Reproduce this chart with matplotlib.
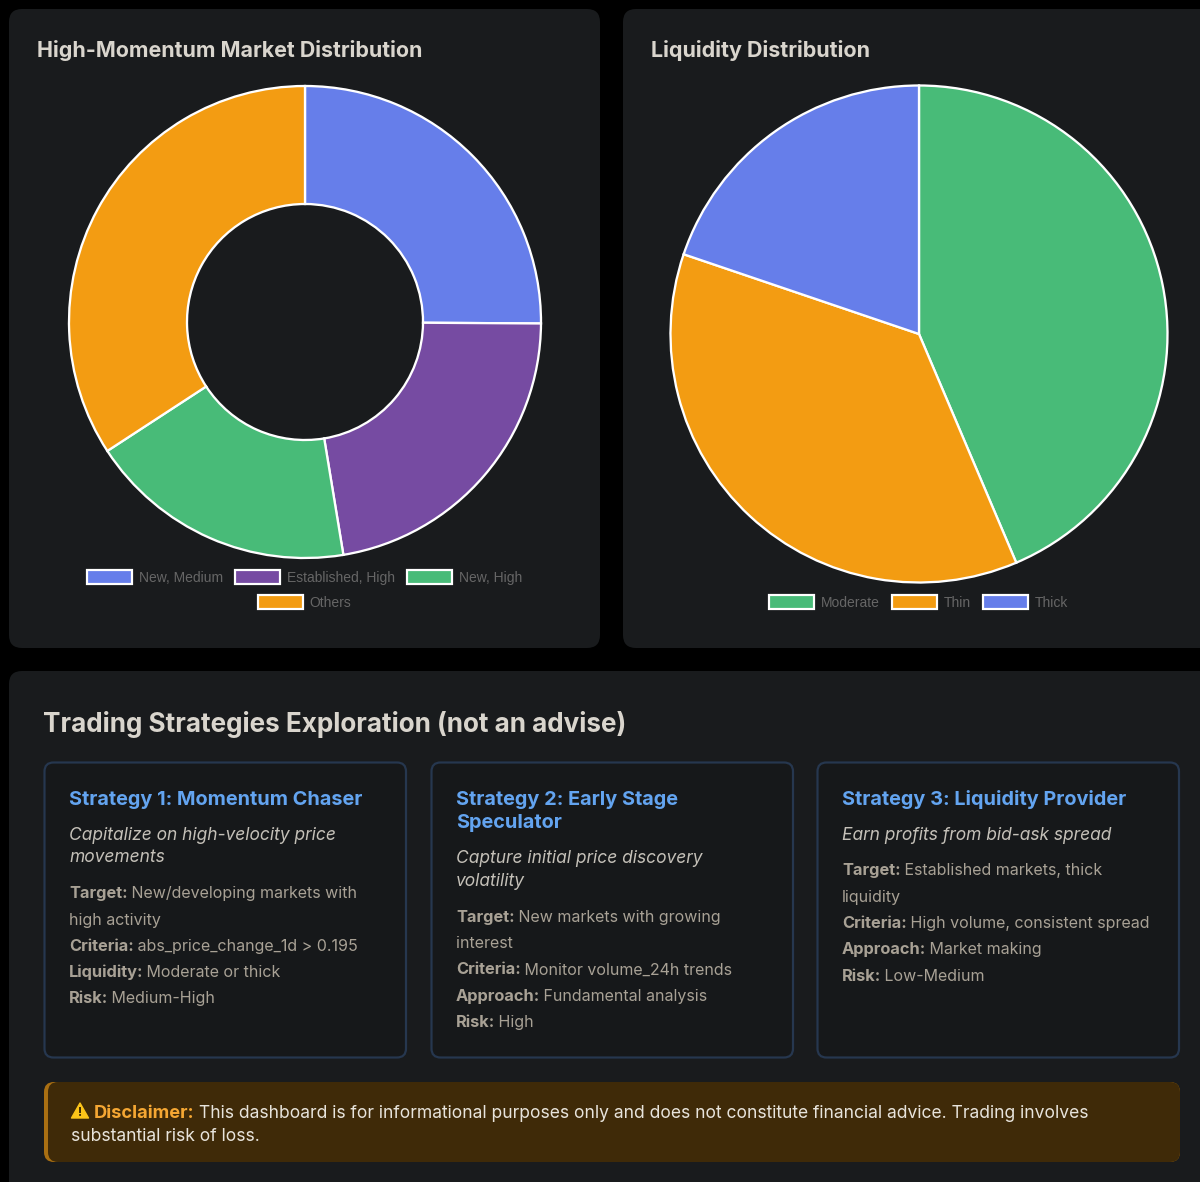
import matplotlib
matplotlib.use("Agg")
import matplotlib.pyplot as plt
from matplotlib.patches import FancyBboxPatch, Rectangle, Polygon

W, H = 1200, 1182
BLUE, PURPLE, GREEN, ORANGE = "#667eea", "#764ba2", "#48bb78", "#f39c12"

market_labels = ["New, Medium", "Established, High", "New, High", "Others"]
market_values = [25.1, 22.3, 18.4, 34.2]
market_colors = [BLUE, PURPLE, GREEN, ORANGE]

liquidity_labels = ["Moderate", "Thin", "Thick"]
liquidity_values = [43.6, 36.6, 19.8]
liquidity_colors = [GREEN, ORANGE, BLUE]

strategy_titles = [["Strategy 1: Momentum Chaser"],
                   ["Strategy 2: Early Stage", "Speculator"],
                   ["Strategy 3: Liquidity Provider"]]
strategy_subs = [["Capitalize on high-velocity price", "movements"],
                 ["Capture initial price discovery", "volatility"],
                 ["Earn profits from bid-ask spread"]]
strategy_rows = [
    [("Target:", " New/developing markets with"), ("", "high activity"),
     ("Criteria:", " abs_price_change_1d > 0.195"), ("Liquidity:", " Moderate or thick"),
     ("Risk:", " Medium-High")],
    [("Target:", " New markets with growing"), ("", "interest"),
     ("Criteria:", " Monitor volume_24h trends"), ("Approach:", " Fundamental analysis"),
     ("Risk:", " High")],
    [("Target:", " Established markets, thick"), ("", "liquidity"),
     ("Criteria:", " High volume, consistent spread"), ("Approach:", " Market making"),
     ("Risk:", " Low-Medium")],
]

PANEL = "#191b1d"
px = 0.72
FONT = "Inter"

fig = plt.figure(figsize=(W / 100, H / 100), dpi=100, facecolor="black")
bg = fig.add_axes([0, 0, 1, 1])
bg.set_xlim(0, W); bg.set_ylim(H, 0); bg.axis("off")
renderer = fig.canvas.get_renderer()


def box(x0, y0, x1, y1, r, fc, ec="none", lw=0, z=1):
    p = FancyBboxPatch((x0 + r, y0 + r), x1 - x0 - 2 * r, y1 - y0 - 2 * r,
                       boxstyle=f"round,pad={r},rounding_size={r}",
                       fc=fc, ec=ec, lw=lw, zorder=z, mutation_aspect=1)
    bg.add_patch(p)


def txt(x, y, s, size, color, weight="normal", style="normal", family=FONT, ha="left"):
    return bg.text(x, y, s, fontsize=size * px, color=color, fontweight=weight,
                   fontstyle=style, family=family, ha=ha, va="baseline", zorder=5)


def runs(x, y, parts):
    for s, size, color, weight, fam in parts:
        t = txt(x, y, s.replace(" ", "\u00a0") if s.startswith(" ") else s, size, color, weight, family=fam)
        x += t.get_window_extent(renderer).width - 1


def pie(cx, cy, r, values, colors, width=None):
    pad = r + 4
    ax = fig.add_axes([(cx - pad) / W, 1 - (cy + pad) / H, 2 * pad / W, 2 * pad / H])
    wp = dict(edgecolor="white", linewidth=2.3 * px)
    if width:
        wp["width"] = width
    ax.pie(values, colors=colors, startangle=90, counterclock=False, radius=1, wedgeprops=wp)
    ax.set_xlim(-pad / r, pad / r); ax.set_ylim(-pad / r, pad / r)
    ax.set_aspect("equal"); ax.axis("off"); ax.set_zorder(3)


def legend(rows, cy_list, colors_map):
    for (items, cx), cy in zip(rows, cy_list):
        widths = []
        for lab in items:
            t = txt(0, cy, lab, 13.9, "#666666", family="Liberation Sans")
            widths.append(t.get_window_extent(renderer).width)
            t.remove()
        gap = 11
        total = sum(47 + 6 + w for w in widths) + gap * (len(items) - 1)
        x = cx - total / 2 - 1
        for lab, w in zip(items, widths):
            bg.add_patch(Rectangle((x + 1, cy - 7), 45.5, 14, fc=colors_map[lab], ec="white",
                                   lw=2.2 * px, zorder=5))
            txt(x + 53, cy + 5, lab, 13.9, "#666666", family="Liberation Sans")
            x += 47 + 6 + w + gap


# panels
box(9, 9, 600, 648, 13, PANEL)
box(623, 9, 1230, 648, 13, PANEL)
box(9, 671, 1230, 1210, 13, PANEL)

txt(37, 57, "High-Momentum Market Distribution", 21.4, "#d9d5cd", "bold")
txt(651, 57, "Liquidity Distribution", 21.5, "#d9d5cd", "bold")

pie(305, 322, 236, market_values, market_colors, width=0.5)
pie(919, 334, 248.5, liquidity_values, liquidity_colors)

legend([(market_labels[:3], 305), (market_labels[3:], 305)], [577, 602],
       dict(zip(market_labels, market_colors)))
legend([(liquidity_labels, 919)], [602], dict(zip(liquidity_labels, liquidity_colors)))

txt(43, 732, "Trading Strategies Exploration (not an advise)", 26.1, "#d9d5cd", "bold")

# strategy cards
for i, x0 in enumerate([44, 431, 817]):
    box(x0 + 0.5, 762.5, x0 + 362, 1057.5, 9, "#16181a", "#26374f", 2.2 * px)
    tx = x0 + 25
    y = 805
    for line in strategy_titles[i]:
        txt(tx, y, line, 19.9, "#63a4f0", "bold")
        y += 23.5
    y += 11
    for line in strategy_subs[i]:
        txt(tx, y, line, 17.4, "#c4c0b8", style="italic")
        y += 22.7
    y += 13.3
    for head, rest in strategy_rows[i]:
        parts = []
        if head:
            parts.append((head, 16.4, "#a8a195", "bold", FONT))
        parts.append((rest, 16.0, "#a8a195", "normal", FONT))
        runs(tx, y, parts)
        y += 26.3

# disclaimer
box(44, 1082, 1180, 1162, 10, "#a96f12")
box(48, 1082, 1180, 1162, 10, "#3f2a08", z=2)
bg.add_patch(Polygon([(71.5, 1118), (80, 1103), (88.5, 1118)], closed=True, fc="#fcc419",
                     ec="#fcc419", lw=1, joinstyle="round", zorder=4))
txt(80, 1116.5, "!", 12, "#2a1c04", "bold", ha="center")
runs(94, 1118, [("Disclaimer:", 18.2, "#f5a733", "bold", FONT),
                (" This dashboard is for informational purposes only and does not constitute financial advice. Trading involves",
                 17.47, "#e8e4dc", "normal", FONT)])
txt(71, 1141, "substantial risk of loss.", 17.5, "#e8e4dc")

fig.savefig("out.png", dpi=100, facecolor="black")
